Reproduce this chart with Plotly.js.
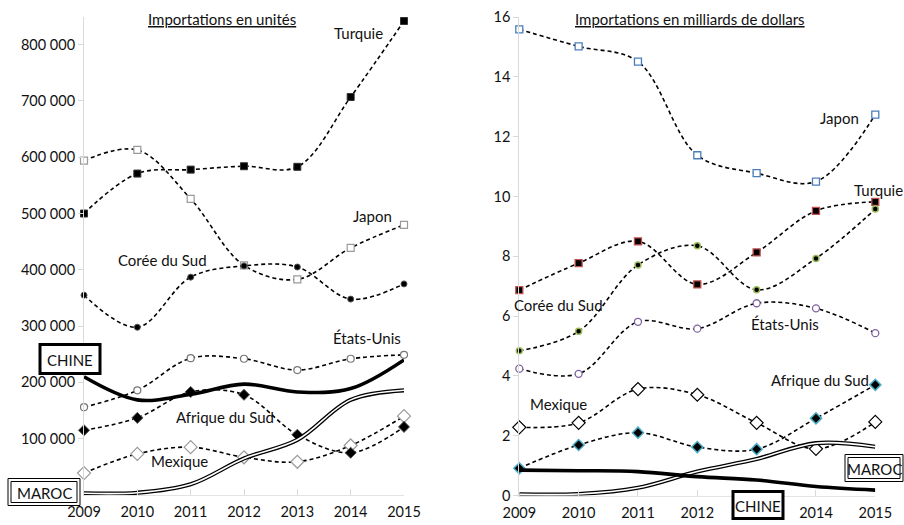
<!DOCTYPE html>
<html>
<head>
<meta charset="utf-8">
<script src="https://cdn.plot.ly/plotly-3.0.1.min.js"></script>
<style>html,body{margin:0;padding:0;background:#fff;}#chart{width:904px;height:525px;}</style>
</head>
<body>
<div id="chart"></div>
<script>
// ---- Data ----
var years = [2009, 2010, 2011, 2012, 2013, 2014, 2015];

// Importations en unités
var turquieU = [500000, 571000, 578000, 584000, 583000, 707000, 842000];
var japonU   = [594000, 613000, 526000, 408000, 383000, 439000, 480000];
var coreeU   = [355000, 298000, 387000, 407000, 405000, 348000, 375000];
var usaU     = [156000, 186000, 243000, 242000, 222000, 242000, 249000];
var afsU     = [115000, 137000, 183000, 178000, 107000, 75000, 121000];
var mexU     = [39000, 73000, 85000, 67000, 59000, 88000, 140000];
var chineU   = [210000, 169000, 179000, 197000, 183000, 189000, 240000];
var marocU   = [3000, 4000, 19000, 65000, 98000, 169000, 186000];

// Importations en milliards de dollars
var japonD   = [15.59, 15.02, 14.51, 11.38, 10.78, 10.50, 12.74];
var turquieD = [6.87, 7.77, 8.50, 7.06, 8.13, 9.52, 9.82];
var coreeD   = [4.84, 5.49, 7.71, 8.35, 6.88, 7.93, 9.58];
var usaD     = [4.24, 4.07, 5.81, 5.58, 6.43, 6.26, 5.43];
var mexD     = [2.28, 2.43, 3.56, 3.37, 2.43, 1.56, 2.46];
var afsD     = [0.91, 1.69, 2.10, 1.62, 1.55, 2.58, 3.70];
var chineD   = [0.85, 0.83, 0.80, 0.63, 0.52, 0.30, 0.18];
var marocD   = [0.04, 0.05, 0.26, 0.80, 1.22, 1.75, 1.63];

var ytickValsU = [100000, 200000, 300000, 400000, 500000, 600000, 700000, 800000];
var ytickTextU = ['100 000', '200 000', '300 000', '400 000', '500 000', '600 000', '700 000', '800 000'];
var ytickValsD = [0, 2, 4, 6, 8, 10, 12, 14, 16];
var ytickTextD = ['0', '2', '4', '6', '8', '10', '12', '14', '16'];

var titleU = 'Importations en unités';
var titleD = 'Importations en milliards de dollars';

// ---- helpers ----
var W = 904, H = 525;
function px(x) { return x / W; }
function py(y) { return 1 - y / H; }
var FONT = 'Lato, "Open Sans", sans-serif';

function dashed(x, y, xa, ya, sym, size, fill, edge, ew) {
  return {
    x: x, y: y, xaxis: xa, yaxis: ya, type: 'scatter', mode: 'lines+markers',
    cliponaxis: false, hoverinfo: 'skip',
    line: {color: '#000', width: 1.6, dash: '4px,3px', shape: 'spline', smoothing: 1},
    marker: {symbol: sym, size: size, color: fill, line: {color: edge, width: ew}}
  };
}
function thick(x, y, xa, ya) {
  return {x: x, y: y, xaxis: xa, yaxis: ya, type: 'scatter', mode: 'lines', cliponaxis: false, hoverinfo: 'skip',
    line: {color: '#000', width: 3.6, shape: 'spline', smoothing: 1}};
}
function doubleLine(x, y, xa, ya) {
  return [
    {x: x, y: y, xaxis: xa, yaxis: ya, type: 'scatter', mode: 'lines', cliponaxis: false, hoverinfo: 'skip',
      line: {color: '#000', width: 4.2, shape: 'spline', smoothing: 1}},
    {x: x, y: y, xaxis: xa, yaxis: ya, type: 'scatter', mode: 'lines', cliponaxis: false, hoverinfo: 'skip',
      line: {color: '#fff', width: 1.6, shape: 'spline', smoothing: 1}}
  ];
}

var traces = [];
// left chart
traces.push(dashed(years, japonU, 'x', 'y', 'square', 7, '#fff', '#9a9a9a', 1.2));
traces.push(dashed(years, turquieU, 'x', 'y', 'square', 7, '#000', '#333', 1));
traces.push(dashed(years, coreeU, 'x', 'y', 'circle', 6, '#000', '#555', 1));
traces.push(dashed(years, usaU, 'x', 'y', 'circle', 7, '#fff', '#777', 1.2));
traces.push(dashed(years, mexU, 'x', 'y', 'diamond', 10, '#fff', '#9a9a9a', 1.2));
traces.push(dashed(years, afsU, 'x', 'y', 'diamond', 8.5, '#000', '#555', 1));
traces = traces.concat(doubleLine(years, marocU, 'x', 'y'));
traces.push(thick(years, chineU, 'x', 'y'));
// right chart
traces.push(dashed(years, japonD, 'x2', 'y2', 'square', 7, '#fff', '#4a7ebb', 1.3));
traces.push(dashed(years, turquieD, 'x2', 'y2', 'square', 7, '#000', '#c0504d', 1.3));
traces.push(dashed(years, coreeD, 'x2', 'y2', 'circle', 6, '#000', '#9bbb59', 1.5));
traces.push(dashed(years, usaD, 'x2', 'y2', 'circle', 7, '#fff', '#8064a2', 1.3));
traces.push(dashed(years, mexD, 'x2', 'y2', 'diamond', 10, '#fff', '#000', 1.2));
traces.push(dashed(years, afsD, 'x2', 'y2', 'diamond', 8.5, '#000', '#4bacc6', 1.5));
traces = traces.concat(doubleLine(years, marocD, 'x2', 'y2'));
traces.push(thick(years, chineD, 'x2', 'y2'));

function xaxisDef(x0, x1) {
  return {
    domain: [px(x0), px(x1)], range: [2009, 2015],
    tickvals: years, ticktext: years.map(String), showgrid: false, zeroline: false,
    showline: true, linecolor: '#e3e3e3', linewidth: 1,
    ticks: 'inside', ticklen: 6, tickcolor: '#d9d9d9', ticklabelstandoff: 4,
    tickfont: {family: FONT, size: 14.5, color: '#111'}, fixedrange: true
  };
}
function yaxisDef(vals, txt, rng, y0, y1) {
  return {
    domain: [py(y0), py(y1)], range: rng, tickvals: vals, ticktext: txt,
    showgrid: false, zeroline: false, showline: true, linecolor: '#d9d9d9', linewidth: 1,
    ticks: 'outside', ticklen: 5, tickcolor: '#d9d9d9',
    tickfont: {family: FONT, size: 14.5, color: '#111'}, fixedrange: true
  };
}

var layout = {
  width: W, height: H, margin: {l: 0, r: 0, t: 0, b: 0},
  paper_bgcolor: '#fff', plot_bgcolor: 'rgba(0,0,0,0)', showlegend: false,
  xaxis: Object.assign(xaxisDef(84, 404), {anchor: 'y'}),
  yaxis: Object.assign(yaxisDef(ytickValsU, ytickTextU, [0, 850000], 495, 16.5), {anchor: 'x'}),
  xaxis2: Object.assign(xaxisDef(519.3, 875.3), {anchor: 'y2'}),
  yaxis2: Object.assign(yaxisDef(ytickValsD, ytickTextD, [0, 16], 495.5, 17.1), {anchor: 'x2'}),
  annotations: [],
  shapes: []
};

function label(text, x, y, size) {
  layout.annotations.push({text: text, xref: 'paper', yref: 'paper', x: px(x), y: py(y),
    xanchor: 'center', yanchor: 'middle', showarrow: false,
    font: {family: FONT, size: size || 15, color: '#111'}});
}
label('<u>' + titleU + '</u>', 222, 19, 15);
label('<u>' + titleD + '</u>', 690, 19, 15);
label('Turquie', 358, 33);
label('Japon', 372, 216);
label('Corée du Sud', 162, 260);
label('États-Unis', 367, 338);
label('Afrique du Sud', 225, 417);
label('Mexique', 179, 461);
label('Japon', 839, 118);
label('Turquie', 878, 190);
label('Corée du Sud', 558, 305);
label('États-Unis', 785, 324);
label('Afrique du Sud', 820, 380);
label('Mexique', 558, 404);

function boxLabel(text, x, y, w, h, bw, dbl) {
  layout.shapes.push({type: 'rect', xref: 'paper', yref: 'paper',
    x0: px(x - w / 2), x1: px(x + w / 2), y0: py(y + h / 2), y1: py(y - h / 2),
    fillcolor: '#fff', line: {color: '#000', width: bw}, layer: 'above'});
  if (dbl) {
    layout.shapes.push({type: 'rect', xref: 'paper', yref: 'paper',
      x0: px(x - w / 2 + 3), x1: px(x + w / 2 - 3), y0: py(y + h / 2 - 3), y1: py(y - h / 2 + 3),
      fillcolor: 'rgba(0,0,0,0)', line: {color: '#000', width: 1}, layer: 'above'});
  }
  label(text, x, y + 1, 15);
}
boxLabel('CHINE', 70, 359, 60, 29, 3, false);
boxLabel('MAROC', 44, 492, 72, 27, 1, true);
boxLabel('MAROC', 874, 468, 58, 27, 1, true);
boxLabel('CHINE', 758, 505, 50, 27, 3, false);

Plotly.newPlot('chart', traces, layout, {staticPlot: true, displayModeBar: false});
</script>
</body>
</html>
